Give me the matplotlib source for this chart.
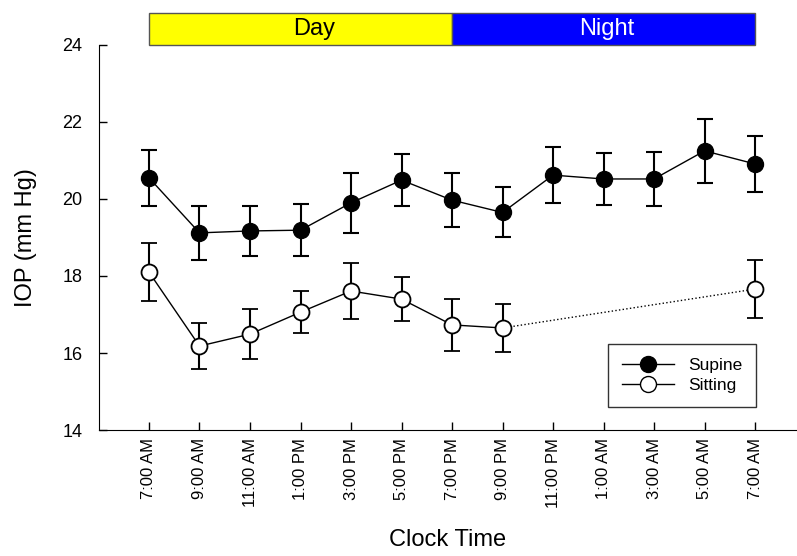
import numpy as np
import matplotlib.pyplot as plt
from matplotlib.lines import Line2D

plt.rcParams['font.family'] = ['Liberation Sans', 'DejaVu Sans']

times = ['7:00 AM', '9:00 AM', '11:00 AM', '1:00 PM', '3:00 PM', '5:00 PM', '7:00 PM',
         '9:00 PM', '11:00 PM', '1:00 AM', '3:00 AM', '5:00 AM', '7:00 AM']

supine = [20.55, 19.12, 19.17, 19.19, 19.90, 20.49, 19.97, 19.65, 20.62, 20.52, 20.52, 21.25, 20.91]
supine_se = [0.72, 0.70, 0.65, 0.68, 0.78, 0.68, 0.70, 0.65, 0.73, 0.68, 0.70, 0.83, 0.73]

# sitting measured only during the day and at the final 7:00 AM
sitting = [18.10, 16.18, 16.49, 17.06, 17.61, 17.40, 16.73, 16.65, np.nan, np.nan, np.nan, np.nan, 17.66]
sitting_se = [0.75, 0.60, 0.65, 0.55, 0.73, 0.57, 0.68, 0.62, np.nan, np.nan, np.nan, np.nan, 0.75]

x = np.arange(len(times))
sit = np.array(sitting)
sit_se = np.array(sitting_se)

fig = plt.figure(figsize=(7.97, 5.56), dpi=100)
ax = fig.add_axes([0.1242, 0.2266, 0.8758, 0.6925])

ms = 11.5
ax.errorbar(x, supine, yerr=supine_se, fmt='-o', color='black', mfc='black', mec='black',
            ms=ms, lw=1, elinewidth=1.5, capsize=5.5, capthick=1.5, zorder=3)

ax.errorbar(x[:8], sit[:8], yerr=sit_se[:8], fmt='-o', color='black', mfc='white', mec='black',
            ms=ms, lw=1, mew=1.3, elinewidth=1.5, capsize=5.5, capthick=1.5, zorder=3)
ax.errorbar(x[12:], sit[12:], yerr=sit_se[12:], fmt='o', color='black', mfc='white', mec='black',
            ms=ms, mew=1.3, elinewidth=1.5, capsize=5.5, capthick=1.5, zorder=3)
ax.plot([x[7], x[12]], [sit[7], sit[12]], ':', color='black', lw=1, zorder=2)

ax.set_xlim(-0.99, 12.83)
ax.set_ylim(14, 24)
ax.set_yticks([14, 16, 18, 20, 22, 24])
ax.set_xticks(x)
ax.set_xticklabels(times, rotation=90, fontsize=12)
ax.tick_params(axis='both', direction='in', length=6, width=1)
ax.tick_params(axis='y', labelsize=13, pad=12)
ax.tick_params(axis='x', pad=6)
ax.spines['top'].set_visible(False)
ax.spines['right'].set_visible(False)

ax.set_ylabel('IOP (mm Hg)', fontsize=17, labelpad=18)
ax.set_xlabel('Clock Time', fontsize=17, labelpad=15)

# Day / Night band above the plot
ax.bar(3, 0.83, width=6, bottom=24, color='#ffff00', edgecolor='#555555', lw=1, clip_on=False)
ax.bar(9, 0.83, width=6, bottom=24, color='#0000ff', edgecolor='#555555', lw=1, clip_on=False)
ax.text(3.27, 24.42, 'Day', ha='center', va='center', fontsize=17, color='black')
ax.text(9.07, 24.42, 'Night', ha='center', va='center', fontsize=17, color='white')

handles = [Line2D([], [], color='black', marker='o', mfc='black', ms=ms, lw=1),
           Line2D([], [], color='black', marker='o', mfc='white', ms=ms, lw=1)]
leg = ax.legend(handles, ['Supine', 'Sitting'], loc='lower left', bbox_to_anchor=(0.729, 0.06),
                borderaxespad=0, fontsize=12.5, frameon=True, fancybox=False, edgecolor='black',
                handlelength=3.0, handletextpad=0.8, borderpad=0.8, labelspacing=0.3)
leg.get_frame().set_linewidth(1)

fig.savefig('out.png', dpi=100)
